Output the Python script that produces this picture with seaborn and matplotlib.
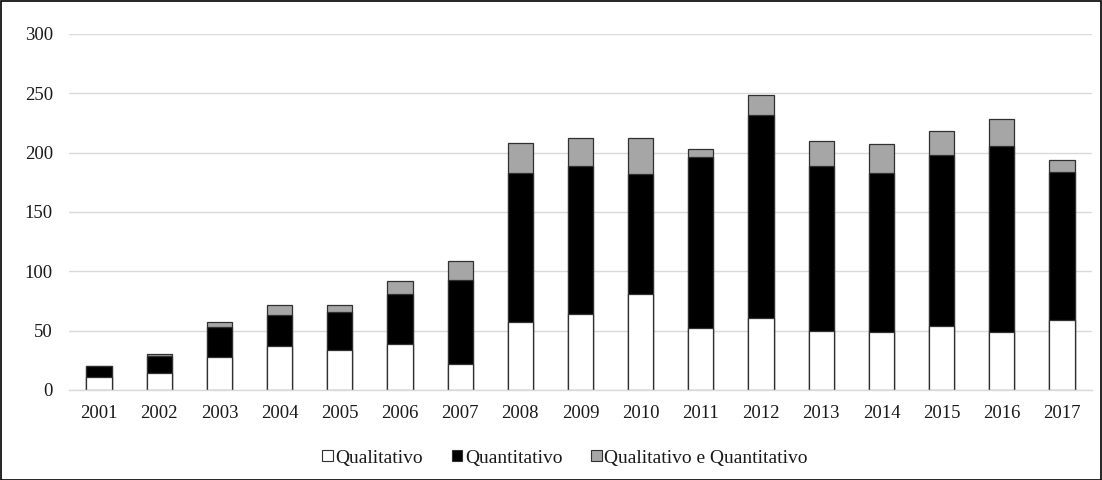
import matplotlib
matplotlib.use('Agg')
import matplotlib.pyplot as plt
import seaborn as sns
import numpy as np
import pandas as pd
from matplotlib.patches import Patch, Rectangle

years = [str(y) for y in range(2001, 2018)]
qualitativo = [11, 14, 28, 37, 34, 39, 22, 57, 64, 81, 52, 61, 50, 49, 54, 49, 59]
quantitativo = [9, 15, 25, 26, 32, 42, 71, 126, 125, 101, 144, 171, 139, 134, 144, 157, 125]
ambos = [0, 1, 4, 9, 6, 11, 16, 25, 23, 30, 7, 17, 21, 24, 20, 22, 10]
labels = ['Qualitativo', 'Quantitativo', 'Qualitativo e Quantitativo']
colors = ['#ffffff', '#000000', '#a6a6a6']

sns.set_style('white')
plt.rcParams['font.family'] = ['Liberation Serif', 'DejaVu Serif']

df = pd.DataFrame({'ano': years, 'ql': qualitativo, 'qt': quantitativo, 'qq': ambos})
df['lvl1'] = df['ql']
df['lvl2'] = df['ql'] + df['qt']
df['lvl3'] = df['lvl2'] + df['qq']

fig = plt.figure(figsize=(11.02, 4.8), dpi=100)
ax = fig.add_axes([69 / 1102, 90 / 480, 1023 / 1102, 356 / 480])

# stacked bars: draw cumulative totals from top layer down
for col, c in zip(['lvl3', 'lvl2', 'lvl1'], colors[::-1]):
    sns.barplot(data=df, x='ano', y=col, color=c, width=0.42, ax=ax,
                edgecolor='#303030', linewidth=0.9, saturation=1)

ax.set_ylim(0, 300)
ax.set_xlim(-0.5, 16.5)
ax.set_yticks(range(0, 301, 50))
ax.yaxis.grid(True, color='#d9d9d9', linewidth=1)
ax.set_axisbelow(True)
for s in ['top', 'right', 'left']:
    ax.spines[s].set_visible(False)
ax.spines['bottom'].set_color('#d9d9d9')
ax.spines['bottom'].set_linewidth(1)
ax.set_xlabel('')
ax.set_ylabel('')
ax.tick_params(axis='both', length=0, labelsize=13.5, colors='#1a1a1a')
ax.tick_params(axis='x', pad=11)
ax.tick_params(axis='y', pad=11.5)

handles = [Patch(facecolor=c, edgecolor='#303030', linewidth=0.8) for c in colors]
fig.legend(handles, labels, loc='center', bbox_to_anchor=(565 / 1102, 1 - 458 / 480),
           ncol=3, frameon=False, fontsize=14, handlelength=0.55, handleheight=0.55,
           handletextpad=0.15, columnspacing=1.45, labelcolor='#1a1a1a')

fig.patches.append(Rectangle((0.001, 0.001), 0.998, 0.997, transform=fig.transFigure,
                             fill=False, edgecolor='black', linewidth=1.2))

fig.savefig('out.png', dpi=100)
